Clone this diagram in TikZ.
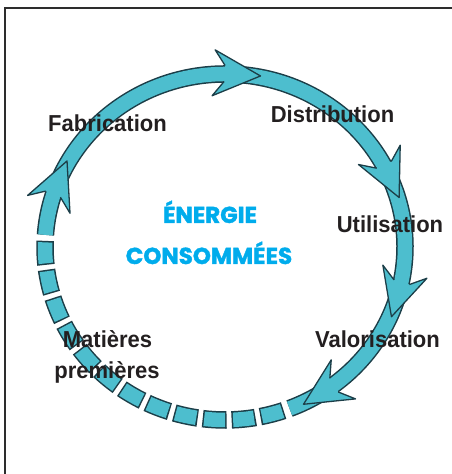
\documentclass[tikz,border=0pt]{standalone}
\usepackage{fontspec}
\setmainfont{Liberation Sans}
\newfontfamily\titlefont{Poppins}[BoldFeatures={FakeBold=1.6}]
\usetikzlibrary{calc}
\definecolor{ringfill}{RGB}{77,190,206}
\definecolor{ringedge}{RGB}{28,62,72}
\definecolor{titleblue}{RGB}{0,172,236}
\definecolor{labelgray}{RGB}{35,31,32}
\definecolor{framegray}{RGB}{45,45,45}
\tikzset{
  stage/.style={font=\bfseries\fontsize{22}{24}\selectfont, text=labelgray, inner sep=0pt, anchor=base, yscale=1.05},
  headline/.style={font=\titlefont\bfseries\fontsize{23}{25}\selectfont, text=titleblue, inner sep=0pt, anchor=base},
  barb/.pic={
    \fill[ringfill] (-13,8) -- (-24,23) -- (23,0) -- (-24,-23) -- (-13,-8) -- cycle;
    \draw[ringedge, line width=1.3pt, line join=round] (-13,8) -- (-24,23) -- (23,0) -- (-24,-23) -- (-13,-8);
  }
}
\begin{document}
\begin{tikzpicture}[x=1pt,y=1pt]
  \useasboundingbox (0,0) rectangle (452,474);
  \draw[framegray, line width=2.6pt] (5,0) -- (5,466) -- (452,466);
  \coordinate (c) at (225,227);
  \draw[ringedge, line width=17.5pt] ($(c)+(176:180 and 173)$) arc[start angle=176, end angle=-69, x radius=180, y radius=173];
  \draw[ringfill, line width=14.5pt] ($(c)+(176:180 and 173)$) arc[start angle=176, end angle=-69, x radius=180, y radius=173];
  \draw[ringedge, line width=17.5pt, dash pattern=on 24pt off 5pt] ($(c)+(-71:180 and 173)$) arc[start angle=-71, end angle=-183, x radius=180, y radius=173];
  \draw[ringfill, line width=14.5pt, dash pattern=on 21pt off 8pt, dash phase=27.5pt] ($(c)+(-71:180 and 173)$) arc[start angle=-71, end angle=-183, x radius=180, y radius=173];
  \foreach \t in {86,24,-16,-57,158}
    \pic[rotate={atan2(-173*cos(\t),180*sin(\t))}] at ($(c)+(\t:180 and 173)$) {barb};
  \node[stage] (fab) at (107.5,342) {Fabrication};
  \node[stage] (dist) at (332.5,351) {Distribution};
  \node[stage] (util) at (390,241) {Utilisation};
  \node[stage] (valo) at (377.5,126) {Valorisation};
  \node[stage] (mat) at (107.5,126) {Matières};
  \node[stage] (prem) at (107,95) {premières};
  \node[headline] (nrj) at (210,251) {ÉNERGIE};
  \node[headline] (cons) at (209,210) {CONSOMMÉES};
\end{tikzpicture}
\end{document}
